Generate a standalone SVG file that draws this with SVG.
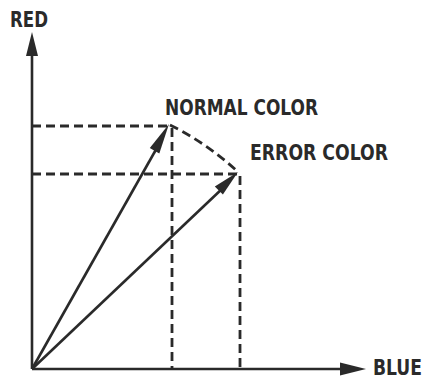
<svg xmlns="http://www.w3.org/2000/svg" width="432" height="380" viewBox="0 0 432 380">
<style>
.axis{stroke:#2a2a2a;stroke-width:2.6;fill:none}
.vec{stroke:#2a2a2a;stroke-width:2.6;fill:none}
.dash{stroke:#2a2a2a;stroke-width:2.8;fill:none;stroke-dasharray:9 5}
.lbl{font-family:"DejaVu Sans Condensed","DejaVu Sans",sans-serif;font-size:21px;font-weight:bold;fill:#2a2a2a}
.head{fill:#2a2a2a}
</style>
<rect width="432" height="380" fill="#ffffff"/>
<g id="connectors">
<line class="axis" x1="32" y1="369" x2="32" y2="50"/>
<polygon class="head" points="32,32 38,56 26,56"/>
<line class="axis" x1="32" y1="369" x2="345" y2="369"/>
<polygon class="head" points="366,369 340,362.5 340,375.5"/>
<line class="dash" x1="32" y1="126" x2="170" y2="126"/>
<line class="dash" x1="32" y1="174" x2="238" y2="174"/>
<line class="dash" x1="172" y1="128" x2="172" y2="369"/>
<line class="dash" x1="240" y1="176" x2="240" y2="369"/>
<path class="dash" d="M170,125 A282,282 0 0 1 238,172"/>
<line class="vec" x1="32" y1="369" x2="158" y2="146"/>
<polygon class="head" points="169,124 159.3,153.5 149.8,148.1"/>
<line class="vec" x1="32" y1="369" x2="224" y2="187"/>
<polygon class="head" points="238,172 222.9,194.6 214.8,186.6"/>
</g>
<g id="red"><text class="lbl" x="10" y="27" textLength="38" lengthAdjust="spacingAndGlyphs">RED</text></g>
<g id="normal"><text class="lbl" x="165" y="115" textLength="153" lengthAdjust="spacingAndGlyphs">NORMAL COLOR</text></g>
<g id="error"><text class="lbl" x="250" y="160" textLength="138" lengthAdjust="spacingAndGlyphs">ERROR COLOR</text></g>
<g id="blue"><text class="lbl" x="373" y="375" font-size="20" textLength="49" lengthAdjust="spacingAndGlyphs">BLUE</text></g>
</svg>
